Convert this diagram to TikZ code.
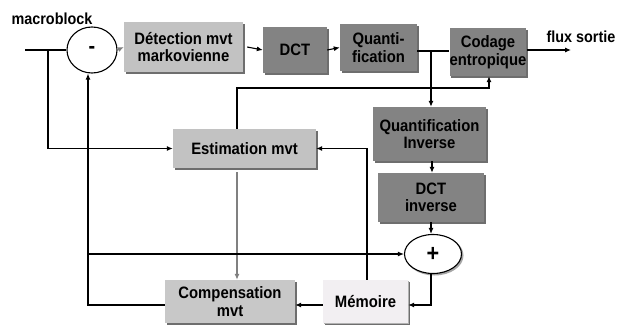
\documentclass[tikz,border=0pt]{standalone}
\usepackage{fontspec}
\setmainfont[FakeStretch=0.9]{Liberation Sans}
\usetikzlibrary{arrows.meta,shadows,shapes.geometric}
\definecolor{lightbox}{HTML}{C2C2C2}
\definecolor{darkbox}{HTML}{838383}
\definecolor{membox}{HTML}{F2EFF2}
\definecolor{shadowc}{HTML}{6E6E6E}
\begin{document}
\begin{tikzpicture}[x=1pt,y=-1pt,
  every node/.style={font=\fontsize{16.5}{17.5}\selectfont\bfseries, inner sep=0pt, align=center},
  box/.style={rectangle, draw=none, drop shadow={shadow xshift=1.6pt, shadow yshift=-1.6pt, fill=shadowc, opacity=1}},
  lbox/.style={box, fill=lightbox},
  dbox/.style={box, fill=darkbox},
  mbox/.style={box, fill=membox, drop shadow={shadow xshift=1.2pt, shadow yshift=-1.2pt, fill=gray!60, opacity=1}},
  conn/.style={line width=1.1pt, black},
  arr/.style={conn, -{Latex[length=6pt,width=5pt]}},
  garr/.style={line width=1.1pt, gray, -{Latex[length=6pt,width=5pt]}},
  lbl/.style={font=\fontsize{16}{17}\selectfont\bfseries}]
\useasboundingbox (0,0) rectangle (618,324);
\fill[white] (0,0) rectangle (618,324);

% labels
\node[lbl] (mb) at (52,19) {macroblock};
\node[lbl] (fs) at (581,37) {flux sortie};

% nodes
\node[ellipse, draw, line width=1.1pt, fill=white, minimum width=50pt, minimum height=46pt] (minus) at (92,50) {\fontsize{22}{22}\selectfont -};
\node[lbox, minimum width=119pt, minimum height=50pt] (det) at (183.5,47) {Détection mvt\\markovienne};
\node[dbox, minimum width=64pt, minimum height=46pt] (dct) at (295,50) {DCT};
\node[dbox, minimum width=77pt, minimum height=47pt] (quant) at (378.5,47.5) {Quanti-\\fication};
\node[dbox, minimum width=72pt, minimum height=48pt] (cod) at (488,52) {Codage\\entropique};
\node[lbox, minimum width=143pt, minimum height=39pt] (est) at (244.5,148.5) {Estimation mvt};
\node[dbox, minimum width=113pt, minimum height=54pt] (qi) at (429.5,134) {Quantification\\Inverse};
\node[dbox, minimum width=106pt, minimum height=49pt] (dcti) at (431,197.5) {DCT\\inverse};
\fill[gray!70] (434.5,255.5) ellipse [x radius=29pt, y radius=20pt];
\node[ellipse, draw, line width=1.1pt, fill=white, minimum width=57pt, minimum height=39pt] (plus) at (433,254) {\fontsize{24}{24}\selectfont +};
\node[lbox, fill=lightbox!90!white, minimum width=130pt, minimum height=43pt] (comp) at (230,301.5) {Compensation\\mvt};
\node[mbox, minimum width=85pt, minimum height=43pt] (mem) at (365.5,301.5) {Mémoire};

% coordinates
\coordinate (in) at (25,50);
\coordinate (j1) at (48,50);
\coordinate (j2) at (431,51);
\coordinate (out) at (571,50);
\coordinate (jl) at (88,254);

% connectors
\draw[conn] (in) -- (minus.west);
\draw[arr] (j1) |- (est.west);
\draw[garr] (minus.east) -- (det.west);
\draw[arr] (det.east) ++(4,0) -- (dct.west);
\draw[arr] (dct.east) -- (quant.west);
\draw[conn] (quant.east |- j2) -- (cod.west |- j2);
\draw[arr] (j2) -- (qi.north -| j2);
\draw[arr] (cod.east |- out) -- (out);
\draw[arr] (est.north -| 237,0) -- (237,88) -| (cod.south -| 489,0);
\draw[garr] (237,172) -- (comp.north -| 237,0);
\draw[arr] (mem.west |- 0,305) -- (comp.east |- 0,305);
\draw[arr] (mem.north -| 367,0) |- (est.east);
\draw[arr] (qi.south -| 432,0) -- (dcti.north -| 432,0);
\draw[arr] (dcti.south -| 431,0) -- (plus.north -| 431,0);
\draw[arr] (jl) -- (plus.west);
\draw[arr] (plus.south -| 431,0) |- (mem.east |- 0,305);
\draw[arr] (comp.west |- 0,305) -| (minus.south -| 88,0);
\end{tikzpicture}
\end{document}
